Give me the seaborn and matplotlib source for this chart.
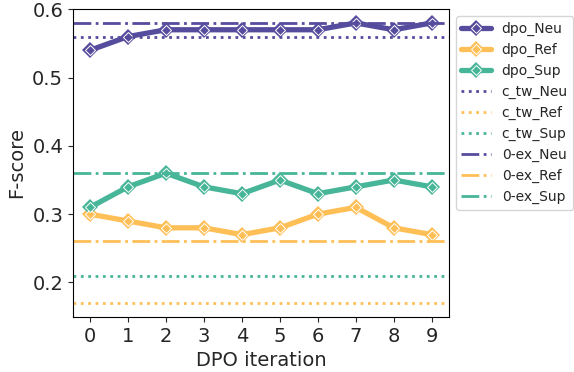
import matplotlib
matplotlib.use("Agg")
import matplotlib.pyplot as plt
from matplotlib.lines import Line2D
import pandas as pd
import seaborn as sns

# values
iterations = list(range(10))
dpo_neu = [0.54, 0.56, 0.57, 0.57, 0.57, 0.57, 0.57, 0.58, 0.57, 0.58]
dpo_ref = [0.30, 0.29, 0.28, 0.28, 0.27, 0.28, 0.30, 0.31, 0.28, 0.27]
dpo_sup = [0.31, 0.34, 0.36, 0.34, 0.33, 0.35, 0.33, 0.34, 0.35, 0.34]
c_tw = {"Neu": 0.56, "Ref": 0.17, "Sup": 0.21}
zero_ex = {"Neu": 0.58, "Ref": 0.26, "Sup": 0.36}

classes = ["Neu", "Ref", "Sup"]
colors = {"Neu": "#564c9e", "Ref": "#ffbf57", "Sup": "#47b598"}

sns.set_style("ticks")
plt.rcParams['font.family'] = ['DejaVu Sans']

df = pd.DataFrame({"iter": iterations * 3,
                   "score": dpo_neu + dpo_ref + dpo_sup,
                   "cls": ["Neu"] * 10 + ["Ref"] * 10 + ["Sup"] * 10})

fig, ax = plt.subplots(figsize=(5.74, 3.72), dpi=100)

# thick line with a colored diamond, then a white-ringed diamond on top
outer = dict(linewidth=3.8, marker="D", markersize=8, markeredgewidth=0)
inner = dict(linewidth=0, marker="D", markersize=5.5, markeredgecolor="white",
             markeredgewidth=0.7)
sns.lineplot(data=df, x="iter", y="score", hue="cls", palette=colors,
             hue_order=classes, ax=ax, legend=False, **outer)
sns.lineplot(data=df, x="iter", y="score", hue="cls", palette=colors,
             hue_order=classes, ax=ax, legend=False, **inner)

handles, labels = [], []
for cls in classes:
    h1 = Line2D([], [], color=colors[cls], markerfacecolor=colors[cls], **outer)
    h2 = Line2D([], [], color=colors[cls], markerfacecolor=colors[cls], **inner)
    handles.append((h1, h2))
    labels.append("dpo_" + cls)

for prefix, vals, ls in [("c_tw_", c_tw, ":"), ("0-ex_", zero_ex, "-.")]:
    for cls in classes:
        h = ax.axhline(vals[cls], color=colors[cls], linestyle=ls, linewidth=2)
        handles.append(h)
        labels.append(prefix + cls)

ax.set_xticks(iterations)
ax.set_yticks([0.2, 0.3, 0.4, 0.5, 0.6])
ax.tick_params(axis='both', labelsize=14)
ax.set_xlabel("DPO iteration", fontsize=14)
ax.set_ylabel("F-score", fontsize=14)
for s in ax.spines.values():
    s.set_visible(True)
    s.set_color("black")

ax.legend(handles, labels, loc="upper left", bbox_to_anchor=(1.0, 1.0),
          fontsize=10, frameon=True, handlelength=2.1)

plt.subplots_adjust(left=0.127, right=0.782, top=0.976, bottom=0.148)
plt.savefig("out.png", dpi=100)
